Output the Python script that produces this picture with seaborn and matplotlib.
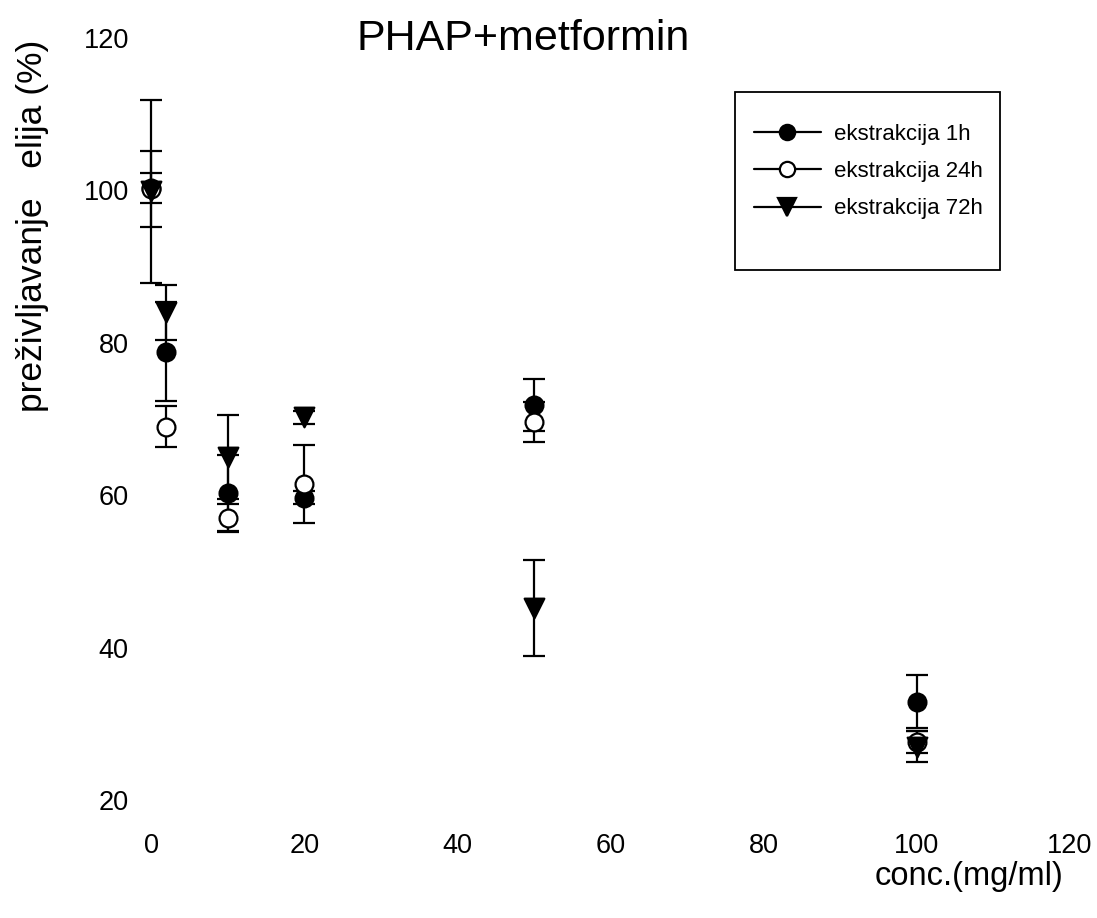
import seaborn as sns
import matplotlib.pyplot as plt
import pandas as pd
from matplotlib.lines import Line2D
from matplotlib.patches import Rectangle

# ===================== DATA =====================
conc = [0, 2, 10, 20, 50, 100]

surv_1h = [100.3, 78.8, 60.3, 59.7, 71.8, 32.9]
err_1h = [2.0, 6.5, 5.0, 0.8, 3.4, 3.5]

surv_24h = [100.2, 69.0, 57.0, 61.5, 69.6, 27.6]
err_24h = [5.0, 2.7, 1.8, 5.1, 2.6, 1.4]

surv_72h = [99.9, 84.0, 65.0, 70.2, 45.2, 27.0]
err_72h = [12.0, 3.6, 5.5, 0.8, 6.3, 2.0]

labels = ["ekstrakcija 1h", "ekstrakcija 24h", "ekstrakcija 72h"]

df = pd.concat([
    pd.DataFrame({"conc": conc, "surv": surv_1h, "err": err_1h, "series": labels[0]}),
    pd.DataFrame({"conc": conc, "surv": surv_24h, "err": err_24h, "series": labels[1]}),
    pd.DataFrame({"conc": conc, "surv": surv_72h, "err": err_72h, "series": labels[2]}),
])

# ===================== STYLE =====================
sns.set_style("white")
plt.rcParams["font.family"] = ["Liberation Sans", "DejaVu Sans"]
plt.rcParams["text.color"] = "black"
plt.rcParams["xtick.color"] = "black"
plt.rcParams["ytick.color"] = "black"

markers = {labels[0]: "o", labels[1]: "o", labels[2]: "v"}
faces = {labels[0]: "black", labels[1]: "white", labels[2]: "black"}
sizes = {labels[0]: 165, labels[1]: 165, labels[2]: 200}

fig = plt.figure(figsize=(10.97, 9.18), dpi=100)
ax = fig.add_axes([0.1377, 0.1285, 0.8377, 0.8301])

# ===================== ERROR BARS + MARKERS =====================
for name in labels:
    sub = df[df["series"] == name]
    ax.errorbar(sub["conc"], sub["surv"], yerr=sub["err"], fmt="none",
                ecolor="black", elinewidth=1.6, capsize=8, capthick=1.6,
                zorder=2, clip_on=False)

for name in labels:
    sub = df[df["series"] == name]
    sns.scatterplot(data=sub, x="conc", y="surv", ax=ax, marker=markers[name],
                    s=sizes[name], color=faces[name], edgecolor="black",
                    linewidth=1.6, zorder=3, clip_on=False, legend=False)

# ===================== AXES =====================
ax.set_xlim(0, 120)
ax.set_ylim(20, 120)
ax.set_xticks(range(0, 121, 20))
ax.set_yticks(range(20, 121, 20))
for s in ax.spines.values():
    s.set_visible(False)
ax.tick_params(axis="x", length=0, pad=24, labelsize=19.5, labelcolor="black")
ax.tick_params(axis="y", length=0, pad=16, labelsize=19.5, labelcolor="black")
ax.set_xlabel("")
ax.set_ylabel("")

fig.text(0.030, 0.754, "preživljavanje   elija (%)", rotation=90,
         ha="center", va="center", fontsize=25.5)
fig.text(0.969, 0.045, "conc.(mg/ml)", ha="right", va="center", fontsize=23.5)
fig.text(0.477, 0.958, "PHAP+metformin", ha="center", va="center", fontsize=31)

# ======================= LEGEND =======================
handles = [
    Line2D([], [], color="black", lw=1.6, marker=markers[n],
           markersize=11 if markers[n] == "o" else 12.5,
           markerfacecolor=faces[n], markeredgecolor="black", markeredgewidth=1.6,
           label=n)
    for n in labels
]
ax.add_patch(Rectangle((0.635, 0.696), 0.289, 0.233, transform=ax.transAxes,
                       fill=False, edgecolor="black", lw=1.3, clip_on=False))
ax.legend(handles=handles, loc="upper left", bbox_to_anchor=(0.6465, 0.899),
          frameon=False, fontsize=16, handlelength=3.0, handletextpad=0.6,
          labelspacing=0.73, borderaxespad=0, labelcolor="black")

fig.savefig("out.png", dpi=100)
